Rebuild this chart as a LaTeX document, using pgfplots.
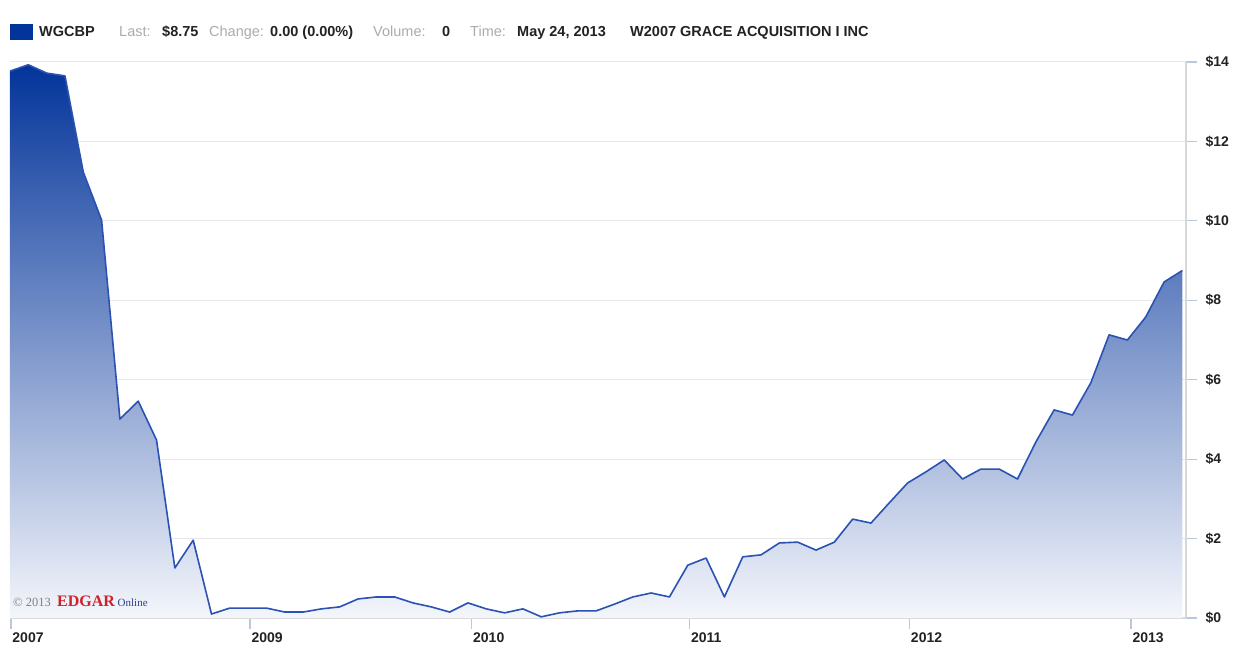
\documentclass[border=0pt]{standalone}
\usepackage{fontspec}
\setmainfont{Liberation Sans}
\newfontfamily\seriffont{Liberation Serif}
\usepackage{pgfplots}
\usepackage{pgfplotstable}
\pgfplotsset{compat=1.18}
\definecolor{topblue}{HTML}{03349A}
\definecolor{botblue}{HTML}{F4F6FB}
\definecolor{lineblue}{HTML}{2A52B2}
\definecolor{gridgray}{HTML}{E8E8E8}
\definecolor{axisgray}{HTML}{D8D8D8}
\definecolor{tickblue}{HTML}{B9C9DD}
\definecolor{lblgray}{HTML}{ABABAB}
\definecolor{txt}{HTML}{222222}
\definecolor{edgarred}{HTML}{D0202A}
\definecolor{onlineblue}{HTML}{2B3F8C}
\pgfplotstableread{
i v
0 13.77
1 13.93
2 13.72
3 13.65
4 11.23
5 10.02
6 5.01
7 5.46
8 4.48
9 1.26
10 1.96
11 0.10
12 0.25
13 0.25
14 0.25
15 0.15
16 0.15
17 0.23
18 0.28
19 0.48
20 0.53
21 0.53
22 0.38
23 0.28
24 0.15
25 0.38
26 0.23
27 0.13
28 0.23
29 0.03
30 0.13
31 0.18
32 0.18
33 0.35
34 0.53
35 0.63
36 0.53
37 1.33
38 1.51
39 0.53
40 1.54
41 1.59
42 1.89
43 1.91
44 1.71
45 1.91
46 2.49
47 2.39
48 2.90
49 3.40
50 3.68
51 3.98
52 3.50
53 3.75
54 3.75
55 3.50
56 4.43
57 5.24
58 5.11
59 5.92
60 7.13
61 7.00
62 7.58
63 8.46
64 8.75
}\prices
\newcommand\hdr{\fontsize{14.5}{16}\selectfont}
\begin{document}
\begin{tikzpicture}[x=1pt,y=1pt]
\useasboundingbox (-10,-31) rectangle (1231,618);
\begin{axis}[
  at={(0,0)}, anchor=south west, scale only axis,
  width=1176pt, height=556pt,
  xmin=0, xmax=64.2, ymin=0, ymax=14,
  axis x line*=bottom, axis y line*=right,
  axis line style={axisgray, line width=1.2pt, -},
  ytick={0,2,...,14},
  yticklabels={\$0,\$2,\$4,\$6,\$8,\$10,\$12,\$14},
  xtick={0.05,13.1,25.2,37.1,49.1,61.2},
  xticklabels={2007,2009,2010,2011,2012,2013},
  tick align=outside, major tick length=11pt,
  tick style={tickblue, line width=1.2pt},
  ymajorgrids, grid style={gridgray, line width=1pt},
  ticklabel style={font=\fontsize{14}{16}\selectfont\bfseries, text=txt},
  xticklabel style={anchor=north west, xshift=-2pt},
  yticklabel style={anchor=west, xshift=5pt},
  clip=false,
]
\addplot[draw=none, top color=topblue, bottom color=botblue] table[x=i,y=v]{\prices} \closedcycle;
\addplot[lineblue, line width=1.6pt, line join=round] table[x=i,y=v]{\prices};
\end{axis}
% header
\fill[topblue] (0,578) rectangle (23,594);
\begin{scope}[every node/.style={anchor=base west, inner sep=0pt, font=\hdr}]
\node[text=txt, font=\hdr\bfseries] at (29,581) {WGCBP};
\node[text=lblgray] at (109,581) {Last:};
\node[text=txt, font=\hdr\bfseries] at (152,581) {\$8.75};
\node[text=lblgray] at (199,581) {Change:};
\node[text=txt, font=\hdr\bfseries] at (260,581) {0.00 (0.00\%)};
\node[text=lblgray] at (363,581) {Volume:};
\node[text=txt, font=\hdr\bfseries] at (432,581) {0};
\node[text=lblgray] at (460,581) {Time:};
\node[text=txt, font=\hdr\bfseries] at (507,581) {May 24, 2013};
\node[text=txt, font=\hdr\bfseries] at (620,581) {W2007 GRACE ACQUISITION I INC};
% copyright
\node[text=gray, font=\seriffont\fontsize{12.5}{13}\selectfont] at (3,12) {\textcopyright\ 2013};
\node[text=edgarred, font=\seriffont\bfseries\fontsize{16}{17}\selectfont] at (47,12) {EDGAR};
\node[text=onlineblue, font=\seriffont\fontsize{11}{12}\selectfont] at (107.5,12) {Online};
\end{scope}
\end{tikzpicture}
\end{document}
